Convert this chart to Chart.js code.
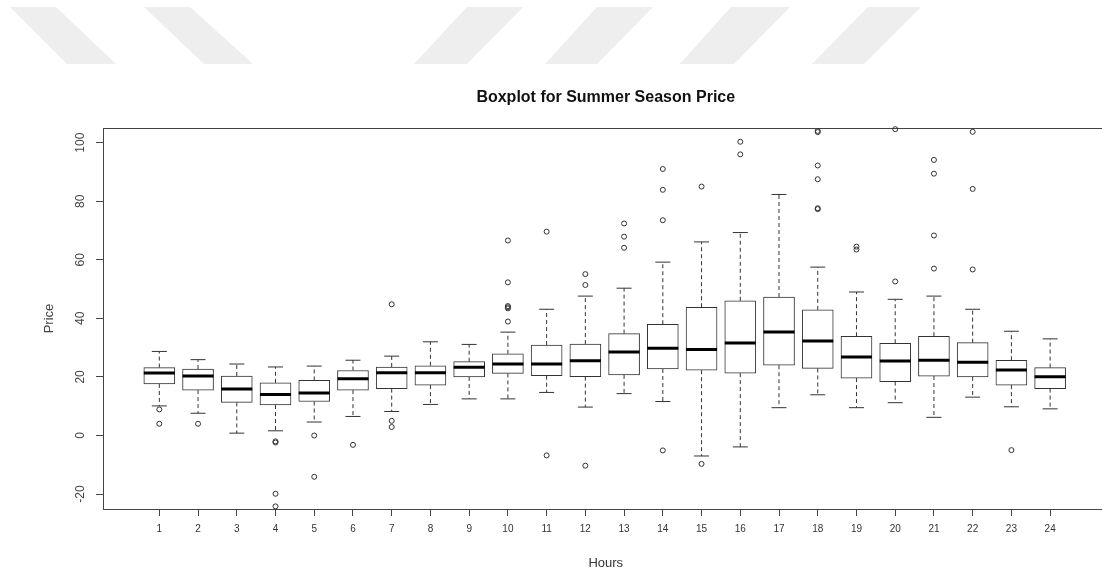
<!DOCTYPE html>
<html>
<head>
<meta charset="utf-8">
<script src="https://cdn.jsdelivr.net/npm/chart.js@4"></script>
<style>
html,body{margin:0;padding:0;overflow:hidden;background:#fff;width:1102px;height:573px;}
#wrap{width:1102px;height:573px;overflow:hidden;position:relative;}
canvas{display:block;}
</style>
</head>
<body>
<div id="wrap"><canvas id="c" width="1127" height="573"></canvas></div>
<script>
// ---- data ----
const hours = [1,2,3,4,5,6,7,8,9,10,11,12,13,14,15,16,17,18,19,20,21,22,23,24];
const whiskerLow = [10.1,7.6,0.8,1.6,4.6,6.5,8.2,10.6,12.5,12.5,14.7,9.7,14.3,11.6,-7.0,-3.9,9.5,13.9,9.5,11.2,6.2,13.1,9.8,9.1];
const quartile1 = [17.6,15.5,11.3,10.4,11.6,15.5,16.0,17.2,20.0,21.2,20.4,20.1,20.7,22.7,22.3,21.3,24.0,22.9,19.6,18.4,20.3,20.0,17.2,16.0];
const medians = [21.3,20.3,15.9,14.0,14.5,19.4,21.4,21.4,23.3,24.4,24.4,25.5,28.5,29.8,29.4,31.6,35.3,32.3,26.8,25.4,25.7,25.0,22.4,20.1];
const quartile3 = [23.2,22.7,20.3,18.0,18.8,22.2,23.4,23.8,25.2,27.9,30.9,31.2,34.8,38.0,43.8,46.0,47.3,42.9,33.9,31.5,33.9,31.7,25.7,23.2];
const whiskerHigh = [28.7,25.9,24.4,23.4,23.7,25.7,27.1,32.0,31.1,35.3,43.1,47.6,50.3,59.2,66.1,69.3,82.3,57.5,49.0,46.5,47.6,43.1,35.6,33.0];
const outliers = [
  [8.9,4.0],[4.0],[],[-2.0,-2.4,-19.9,-24.2],[0.0,-14.1],[-3.2],[44.8,5.0,2.9],[],[],
  [66.6,52.3,44.2,43.8,43.4,38.9],[69.6,-6.8],[55.1,51.4,-10.3],[72.4,67.9,64.1],
  [91.0,83.9,73.5,-5.1],[85.0,-9.7],[100.3,96.0],[],[104.0,103.6,92.2,87.5,77.6,77.3],
  [64.5,63.5],[104.6,52.6],[94.1,89.4,68.3,57.0],[103.7,84.2,56.7],[-5.0],[]
];
const yTicks = [-20,0,20,40,60,80,100];

// ---- derived datasets ----
const boxData = hours.map((h,i)=>({x:h, y:[quartile1[i], quartile3[i]]}));
const medData = hours.map((h,i)=>({x:h, y:medians[i]}));
const capData = [];
hours.forEach((h,i)=>{capData.push({x:h,y:whiskerHigh[i]}); capData.push({x:h,y:whiskerLow[i]});});
const whiskData = [];
hours.forEach((h,i)=>{
  whiskData.push({x:h,y:quartile3[i]},{x:h,y:whiskerHigh[i]},{x:h,y:null});
  whiskData.push({x:h,y:quartile1[i]},{x:h,y:whiskerLow[i]},{x:h,y:null});
});
const outData = [];
hours.forEach((h,i)=>outliers[i].forEach(v=>outData.push({x:h,y:v})));

const X_MIN = -0.454, X_MAX = 25.507;
const INK = '#333333';

const backdrop = {
  id:'backdrop',
  beforeDraw(chart){
    const ctx = chart.ctx;
    ctx.save();
    ctx.fillStyle = '#ffffff';
    ctx.fillRect(0,0,chart.width,chart.height);
    ctx.fillStyle = '#eeeeee';
    const stripes = [
      [10,56,67,116],[144,190,204,253],
      [467,523,414,467],[597,653,545,597],[731,790,680,734],[868,921,812,864]
    ];
    const yt = 7, yb = 64;
    stripes.forEach(s=>{
      ctx.beginPath();
      ctx.moveTo(s[0],yt); ctx.lineTo(s[1],yt); ctx.lineTo(s[3],yb); ctx.lineTo(s[2],yb);
      ctx.closePath(); ctx.fill();
    });
    ctx.restore();
  }
};

new Chart(document.getElementById('c'), {
  type:'bar',
  data:{
    datasets:[
      {type:'line', data:whiskData, xAxisID:'x', yAxisID:'y', borderColor:INK, borderWidth:1,
       borderDash:[4,3], pointRadius:0, spanGaps:false, fill:false, order:3},
      {type:'bar', data:boxData, xAxisID:'x', yAxisID:'y', backgroundColor:'#ffffff', borderColor:INK,
       borderWidth:1, borderSkipped:false, barThickness:31, order:2},
      {type:'scatter', data:medData, xAxisID:'x', yAxisID:'y', pointStyle:'line', pointRadius:15.5,
       borderColor:'#000000', borderWidth:3, showLine:false, order:1},
      {type:'scatter', data:capData, xAxisID:'x', yAxisID:'y', pointStyle:'line', pointRadius:7.5,
       borderColor:INK, borderWidth:1, showLine:false, order:1},
      {type:'scatter', data:outData, xAxisID:'x', yAxisID:'y', pointStyle:'circle', pointRadius:2.5,
       borderColor:INK, backgroundColor:'rgba(0,0,0,0)', borderWidth:1, showLine:false, clip:false, order:0}
    ]
  },
  options:{
    responsive:false, animation:false,
    layout:{padding:{left:0,right:0,top:0,bottom:0}},
    plugins:{legend:{display:false}, tooltip:{enabled:false}, title:{display:false}},
    scales:{
      x:{type:'linear', position:'bottom', min:X_MIN, max:X_MAX, offset:false,
        afterBuildTicks(axis){ axis.ticks = hours.map(v=>({value:v})); },
        afterFit(axis){ axis.height = 64; axis.paddingLeft = 0; axis.paddingRight = 0; },
        grid:{display:true, offset:false, drawOnChartArea:false, drawTicks:true, tickLength:7, color:'#444'},
        border:{display:true, color:'#444', width:1},
        ticks:{padding:7, color:'#333', font:{family:'Liberation Sans', size:10}, maxRotation:0, minRotation:0, autoSkip:false,
          callback:v=>String(v)},
        title:{display:true, text:'Hours', color:'#333', font:{family:'Liberation Sans', size:13}, padding:{top:0,bottom:2}}
      },
      x2:{type:'linear', axis:'x', position:'top', min:X_MIN, max:X_MAX, offset:false,
        afterFit(axis){ axis.height = 128; axis.paddingLeft = 0; axis.paddingRight = 0; },
        grid:{display:false, offset:false}, ticks:{display:false},
        border:{display:true, color:'#444', width:1},
        title:{display:true, text:'Boxplot for Summer Season Price', color:'#111',
          font:{family:'Liberation Sans', size:16, weight:'bold'}, padding:{top:88,bottom:0}}
      },
      y:{type:'linear', position:'left', min:-25.1, max:105,
        afterBuildTicks(axis){ axis.ticks = yTicks.map(v=>({value:v})); },
        afterFit(axis){ axis.width = 103; axis.paddingLeft = 0; axis.paddingRight = 0; },
        grid:{display:true, drawOnChartArea:false, drawTicks:true, tickLength:7, color:'#444'},
        border:{display:true, color:'#444', width:1},
        ticks:{padding:5, crossAlign:'center', minRotation:90, maxRotation:90, color:'#444',
          font:{family:'Liberation Sans', size:12}},
        title:{display:true, text:'Price', color:'#444', font:{family:'Liberation Sans', size:13}, padding:{top:42,bottom:0}}
      }
    }
  },
  plugins:[backdrop]
});
</script>
</body>
</html>
